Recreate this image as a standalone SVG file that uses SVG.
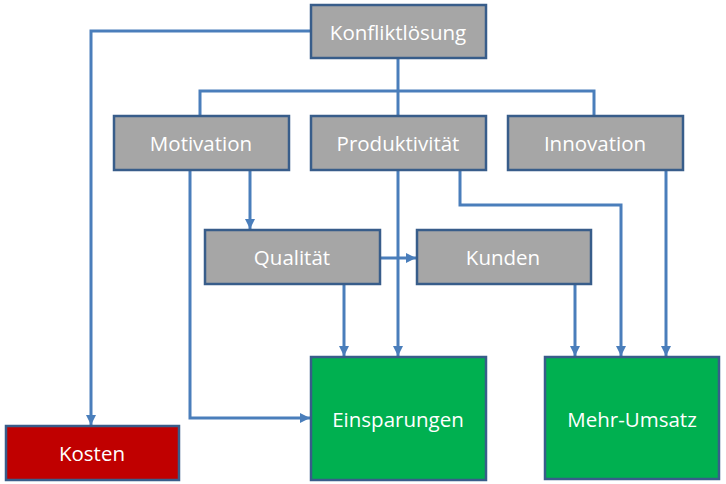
<svg xmlns="http://www.w3.org/2000/svg" width="726" height="484" viewBox="0 0 726 484">
<defs>
<style>
.box{stroke:#385D8A;stroke-width:2.5}
.g{fill:#A6A6A6}
.gr{fill:#00B050}
.rd{fill:#C00000}
text{font-family:"Open Sans","Liberation Sans",sans-serif;font-size:20.5px;fill:#FFFFFF;text-anchor:middle;dominant-baseline:central}
.c{fill:none;stroke:#4A7EBB;stroke-width:3}
</style>
<marker id="ah" markerUnits="userSpaceOnUse" markerWidth="12" markerHeight="12" refX="10" refY="5" orient="auto">
<path d="M0,0 L10,5 L0,10 Z" fill="#4A7EBB"/>
</marker>
</defs>
<g id="connectors">
<path class="c" d="M311,31 H91 V425" marker-end="url(#ah)"/>
<path class="c" d="M398,59 V91"/>
<path class="c" d="M200,116 V91 H594 V116"/>
<path class="c" d="M398,91 V116"/>
<path class="c" d="M190,170 V418 H310" marker-end="url(#ah)"/>
<path class="c" d="M250,170 V229" marker-end="url(#ah)"/>
<path class="c" d="M380,258 H416" marker-end="url(#ah)"/>
<path class="c" d="M344,284 V356" marker-end="url(#ah)"/>
<path class="c" d="M398,170 V356" marker-end="url(#ah)"/>
<path class="c" d="M575,284 V356" marker-end="url(#ah)"/>
<path class="c" d="M460,170 V205 H621 V356" marker-end="url(#ah)"/>
<path class="c" d="M666,170 V356" marker-end="url(#ah)"/>
</g>
<g id="konfliktloesung"><rect class="box g" x="311" y="5" width="175" height="53"/><text x="398" y="32">Konfliktlösung</text></g>
<g id="motivation"><rect class="box g" x="114" y="116" width="175" height="54"/><text x="201" y="143">Motivation</text></g>
<g id="produktivitaet"><rect class="box g" x="311" y="116" width="175" height="54"/><text x="398" y="143">Produktivität</text></g>
<g id="innovation"><rect class="box g" x="508" y="116" width="175" height="54"/><text x="595" y="143">Innovation</text></g>
<g id="qualitaet"><rect class="box g" x="205" y="230" width="175" height="54"/><text x="292" y="257">Qualität</text></g>
<g id="kunden"><rect class="box g" x="417" y="230" width="174" height="54"/><text x="503" y="257">Kunden</text></g>
<g id="einsparungen"><rect class="box gr" x="311" y="357" width="175" height="123"/><text x="398" y="419">Einsparungen</text></g>
<g id="mehrumsatz"><rect class="box gr" x="545" y="357" width="174" height="122"/><text x="632" y="419">Mehr-Umsatz</text></g>
<g id="kosten"><rect class="box rd" x="6" y="426" width="173" height="54"/><text x="92" y="453">Kosten</text></g>
</svg>
